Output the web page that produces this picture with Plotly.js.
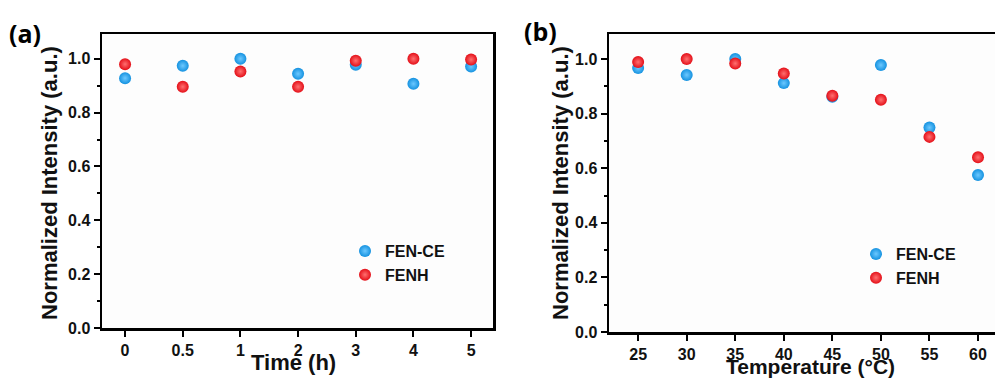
<!DOCTYPE html>
<html>
<head>
<meta charset="utf-8">
<script src="https://cdn.plot.ly/plotly-3.0.1.min.js"></script>
<style>
html,body{margin:0;padding:0;background:#fff;overflow:hidden;}
#chart{width:995px;height:379px;}
</style>
</head>
<body>
<div id="chart"></div>
<script>
// Panel (a): time categories
const timeLabels = ['0', '0.5', '1', '2', '3', '4', '5'];
const timeFENCE = [0.928, 0.974, 1.000, 0.944, 0.978, 0.907, 0.971];
const timeFENH  = [0.980, 0.896, 0.953, 0.896, 0.993, 1.000, 0.997];

// Panel (b): temperature
const temps = [25, 30, 35, 40, 45, 50, 55, 60];
const tempFENCE = [0.967, 0.942, 1.000, 0.912, 0.862, 0.978, 0.749, 0.575];
const tempFENH  = [0.989, 1.000, 0.984, 0.947, 0.866, 0.851, 0.715, 0.640];

const blue = '#1592e0', blueHi = '#6cc8ff';
const red = '#e40f18', redHi = '#ff7070';
const W = 995, H = 379;
const FONT = 'Liberation Sans, Arial, sans-serif';

function mk(color, hi) {
  return {size: 12, color: color, line: {width: 0}, gradient: {type: 'radial', color: hi}};
}
const timeIdx = timeLabels.map((_, i) => i);

const traces = [
  {x: timeIdx, y: timeFENCE, type: 'scatter', mode: 'markers', name: 'FEN-CE', marker: mk(blue, blueHi), xaxis: 'x', yaxis: 'y', legend: 'legend'},
  {x: timeIdx, y: timeFENH, type: 'scatter', mode: 'markers', name: 'FENH', marker: mk(red, redHi), xaxis: 'x', yaxis: 'y', legend: 'legend'},
  {x: temps, y: tempFENCE, type: 'scatter', mode: 'markers', name: 'FEN-CE', marker: mk(blue, blueHi), xaxis: 'x2', yaxis: 'y2', legend: 'legend2'},
  {x: temps, y: tempFENH, type: 'scatter', mode: 'markers', name: 'FENH', marker: mk(red, redHi), xaxis: 'x2', yaxis: 'y2', legend: 'legend2'}
];

const xtickfont = {family: FONT, size: 16, color: '#111', weight: 'bold'};
const ytickfont = {family: FONT, size: 16, color: '#111', weight: 'bold'};
const common = {showline: true, linewidth: 2.5, linecolor: '#000', ticks: 'outside', ticklen: 6, tickwidth: 2, tickcolor: '#000', showgrid: false, zeroline: false, fixedrange: true};

const yCommon = Object.assign({}, common, {range: [0, 1.092], tick0: 0, dtick: 0.2, tickformat: '.1f', tickfont: ytickfont,
  minor: {dtick: 0.1, ticks: 'outside', ticklen: 3, tickwidth: 2, tickcolor: '#000', showgrid: false}});

const legFont = {family: FONT, size: 16, color: '#111', weight: 'bold'};
const titleFont = {family: FONT, size: 22, color: '#111', weight: 'bold'};

const layout = {
  width: W, height: H,
  margin: {l: 0, r: 0, t: 0, b: 0},
  paper_bgcolor: '#fff', plot_bgcolor: '#fdfdfd',
  font: {family: FONT, color: '#111'},
  xaxis: Object.assign({}, common, {domain: [102/W, 493/W], range: [-0.4, 6.38], tickvals: timeIdx, ticktext: timeLabels, tickfont: xtickfont, mirror: true, anchor: 'y'}),
  yaxis: Object.assign({}, yCommon, {domain: [51/H, 345/H], mirror: true, anchor: 'x'}),
  xaxis2: Object.assign({}, common, {domain: [609/W, 1], range: [22, 61.75], tick0: 25, dtick: 5, tickfont: xtickfont, mirror: true, anchor: 'y2'}),
  yaxis2: Object.assign({}, yCommon, {domain: [47/H, 345/H], mirror: false, anchor: 'x2'}),
  showlegend: true,
  legend: {x: 345/W, y: 1 - 234/H, xanchor: 'left', yanchor: 'top', bgcolor: 'rgba(0,0,0,0)', font: legFont, tracegroupgap: 0, itemwidth: 30},
  legend2: {x: 856/W, y: 1 - 237/H, xanchor: 'left', yanchor: 'top', bgcolor: 'rgba(0,0,0,0)', font: legFont, tracegroupgap: 0, itemwidth: 30},
  annotations: [
    {text: '(a)', xref: 'paper', yref: 'paper', x: 25/W, y: 1 - 33/H, showarrow: false, xanchor: 'center', yanchor: 'middle', font: {family: 'Open Sans, Liberation Sans, sans-serif', size: 25, color: '#000', weight: 'bold'}},
    {text: '(b)', xref: 'paper', yref: 'paper', x: 540/W, y: 1 - 31/H, showarrow: false, xanchor: 'center', yanchor: 'middle', font: {family: 'Open Sans, Liberation Sans, sans-serif', size: 25, color: '#000', weight: 'bold'}},
    {text: 'Time (h)', xref: 'paper', yref: 'paper', x: 293/W, y: 1 - 362/H, showarrow: false, xanchor: 'center', yanchor: 'middle', font: titleFont},
    {text: 'Temperature (°C)', xref: 'paper', yref: 'paper', x: 810/W, y: 1 - 366/H, showarrow: false, xanchor: 'center', yanchor: 'middle', font: {family: FONT, size: 21, color: '#111', weight: 'bold'}},
    {text: 'Normalized Intensity (a.u.)', xref: 'paper', yref: 'paper', x: 49/W, y: 1 - 183/H, textangle: -90, showarrow: false, xanchor: 'center', yanchor: 'middle', font: titleFont},
    {text: 'Normalized Intensity (a.u.)', xref: 'paper', yref: 'paper', x: 560/W, y: 1 - 183/H, textangle: -90, showarrow: false, xanchor: 'center', yanchor: 'middle', font: titleFont}
  ]
};

Plotly.newPlot('chart', traces, layout, {displayModeBar: false, staticPlot: true});
</script>
</body>
</html>
